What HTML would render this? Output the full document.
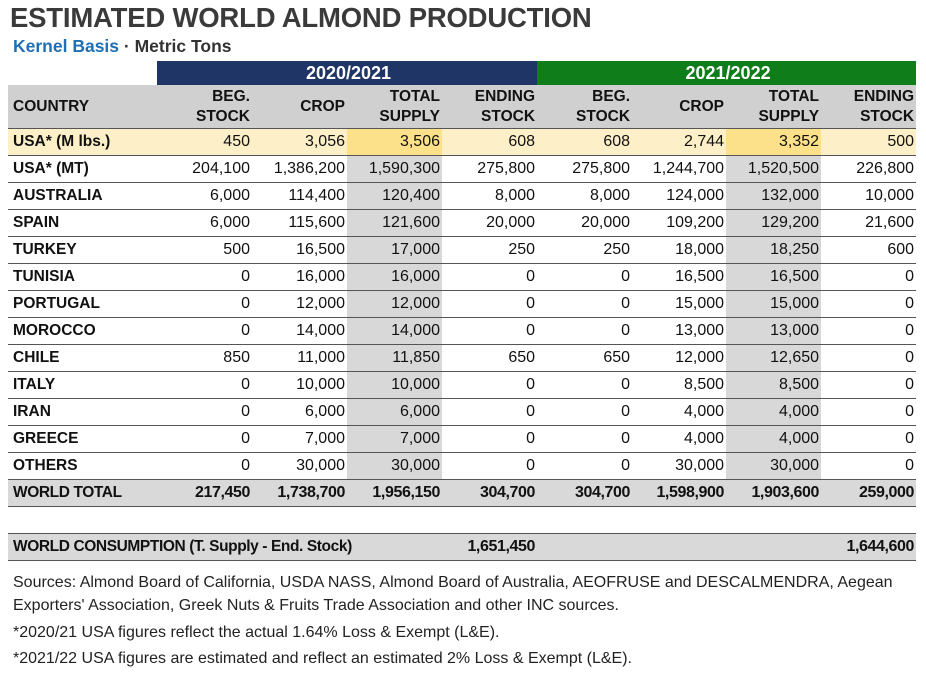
<!DOCTYPE html>
<html><head><meta charset="utf-8"><style>
body{margin:0;width:926px;height:684px;background:#fff;font-family:"Liberation Sans",Arial,sans-serif;color:#111;position:relative;overflow:hidden}
.title{position:absolute;left:10px;top:2px;font-size:27.5px;font-weight:bold;color:#3a3a3a;letter-spacing:-0.2px}
.sub{position:absolute;left:13px;top:36px;font-size:17.5px;font-weight:bold;color:#333}
.sub span{color:#1f6fb5}
table{position:absolute;left:8px;top:61px;border-collapse:collapse;table-layout:fixed;width:908px;font-size:16px}
td{padding:0 2px 0 5px;text-align:right;white-space:nowrap;height:26px;border-bottom:1px solid #555}
td:first-child{text-align:left;font-weight:bold;font-size:15.5px}
.yr td{height:24px;border:none;color:#fff;font-weight:bold;font-size:18px;text-align:center}
.hd td{background:#d0d0d0;font-weight:bold;height:43px;line-height:20px;border-bottom:1px solid #555;font-size:15.5px}
.y1 td.t,.y1 td{background:#fdf0c8}
.y1 td.t{background:#fde08a}
td.t{background:#d8d8d8}
.wt td{background:#d9d9d9;font-weight:bold;letter-spacing:-0.4px}
.gap td{border:none;height:26px}
.cons td{background:#d9d9d9;font-weight:bold;letter-spacing:-0.4px;border-top:1px solid #555;border-bottom:1px solid #555}
.notes{position:absolute;left:13px;font-size:16px;color:#222}
</style></head><body>
<div class="title">ESTIMATED WORLD ALMOND PRODUCTION</div>
<div class="sub"><span>Kernel Basis</span> · Metric Tons</div>
<table>
<colgroup><col style="width:149px"><col style="width:95px"><col style="width:95px"><col style="width:95px"><col style="width:95px"><col style="width:95px"><col style="width:94px"><col style="width:95px"><col style="width:95px"></colgroup>
<tr class="yr"><td style="background:#fff"></td><td colspan="4" style="background:#1f3566;text-align:center">2020/2021</td><td colspan="4" style="background:#0e7d1a;text-align:center">2021/2022</td></tr>
<tr class="hd"><td>COUNTRY</td><td>BEG.<br>STOCK</td><td>CROP</td><td>TOTAL<br>SUPPLY</td><td>ENDING<br>STOCK</td><td>BEG.<br>STOCK</td><td>CROP</td><td>TOTAL<br>SUPPLY</td><td>ENDING<br>STOCK</td></tr>
<tr class="y1"><td>USA* (M lbs.)</td><td>450</td><td>3,056</td><td class="t">3,506</td><td>608</td><td>608</td><td>2,744</td><td class="t">3,352</td><td>500</td></tr>
<tr><td>USA* (MT)</td><td>204,100</td><td>1,386,200</td><td class="t">1,590,300</td><td>275,800</td><td>275,800</td><td>1,244,700</td><td class="t">1,520,500</td><td>226,800</td></tr>
<tr><td>AUSTRALIA</td><td>6,000</td><td>114,400</td><td class="t">120,400</td><td>8,000</td><td>8,000</td><td>124,000</td><td class="t">132,000</td><td>10,000</td></tr>
<tr><td>SPAIN</td><td>6,000</td><td>115,600</td><td class="t">121,600</td><td>20,000</td><td>20,000</td><td>109,200</td><td class="t">129,200</td><td>21,600</td></tr>
<tr><td>TURKEY</td><td>500</td><td>16,500</td><td class="t">17,000</td><td>250</td><td>250</td><td>18,000</td><td class="t">18,250</td><td>600</td></tr>
<tr><td>TUNISIA</td><td>0</td><td>16,000</td><td class="t">16,000</td><td>0</td><td>0</td><td>16,500</td><td class="t">16,500</td><td>0</td></tr>
<tr><td>PORTUGAL</td><td>0</td><td>12,000</td><td class="t">12,000</td><td>0</td><td>0</td><td>15,000</td><td class="t">15,000</td><td>0</td></tr>
<tr><td>MOROCCO</td><td>0</td><td>14,000</td><td class="t">14,000</td><td>0</td><td>0</td><td>13,000</td><td class="t">13,000</td><td>0</td></tr>
<tr><td>CHILE</td><td>850</td><td>11,000</td><td class="t">11,850</td><td>650</td><td>650</td><td>12,000</td><td class="t">12,650</td><td>0</td></tr>
<tr><td>ITALY</td><td>0</td><td>10,000</td><td class="t">10,000</td><td>0</td><td>0</td><td>8,500</td><td class="t">8,500</td><td>0</td></tr>
<tr><td>IRAN</td><td>0</td><td>6,000</td><td class="t">6,000</td><td>0</td><td>0</td><td>4,000</td><td class="t">4,000</td><td>0</td></tr>
<tr><td>GREECE</td><td>0</td><td>7,000</td><td class="t">7,000</td><td>0</td><td>0</td><td>4,000</td><td class="t">4,000</td><td>0</td></tr>
<tr><td>OTHERS</td><td>0</td><td>30,000</td><td class="t">30,000</td><td>0</td><td>0</td><td>30,000</td><td class="t">30,000</td><td>0</td></tr>
<tr class="wt"><td>WORLD TOTAL</td><td>217,450</td><td>1,738,700</td><td>1,956,150</td><td>304,700</td><td>304,700</td><td>1,598,900</td><td>1,903,600</td><td>259,000</td></tr>
<tr class="gap"><td colspan="9"></td></tr>
<tr class="cons"><td colspan="4">WORLD CONSUMPTION (T. Supply - End. Stock)</td><td>1,651,450</td><td></td><td></td><td></td><td>1,644,600</td></tr>
</table>
<div class="notes" style="top:571px;line-height:23px">Sources: Almond Board of California, USDA NASS, Almond Board of Australia, AEOFRUSE and DESCALMENDRA, Aegean<br>Exporters' Association, Greek Nuts &amp; Fruits Trade Association and other INC sources.</div>
<div class="notes" style="top:624px">*2020/21 USA figures reflect the actual 1.64% Loss &amp; Exempt (L&amp;E).</div>
<div class="notes" style="top:650px">*2021/22 USA figures are estimated and reflect an estimated 2% Loss &amp; Exempt (L&amp;E).</div>
</body></html>
